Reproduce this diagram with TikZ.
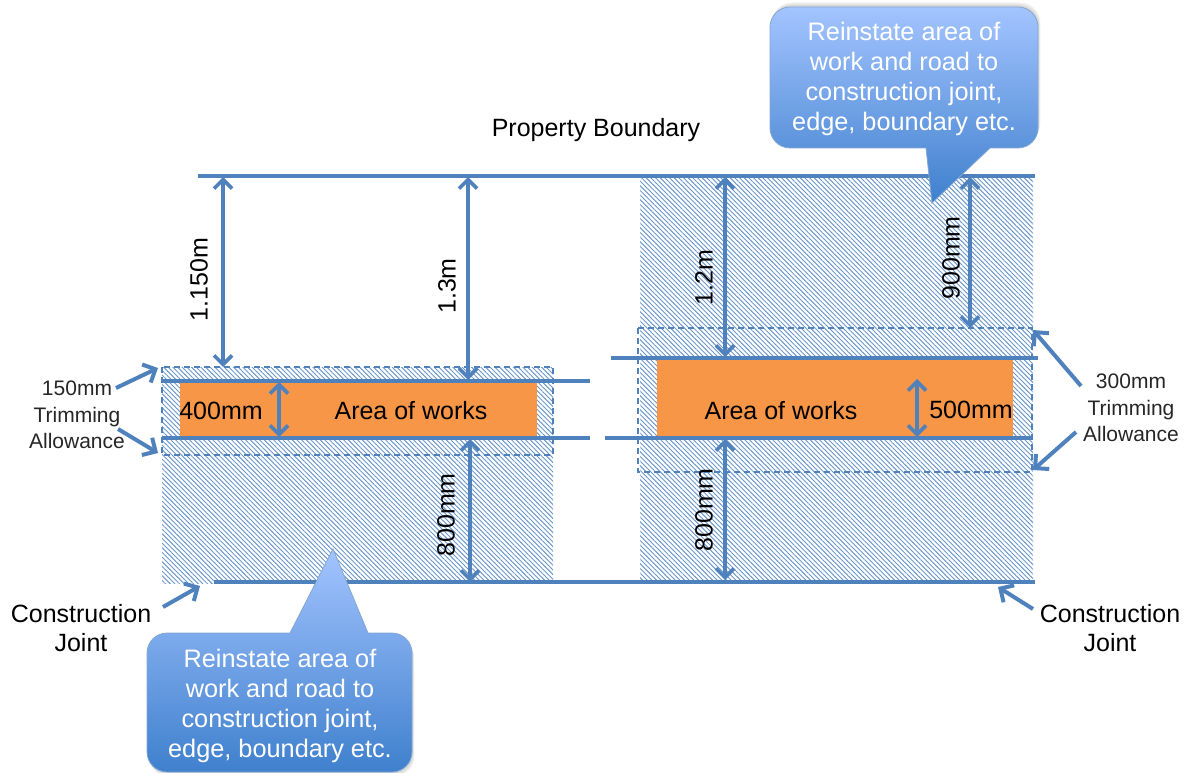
\documentclass[tikz,border=0pt]{standalone}
\usepackage{fontspec}
\setmainfont{Liberation Sans}
\usetikzlibrary{patterns.meta,arrows.meta}
\definecolor{lineblue}{HTML}{4F81BD}
\definecolor{hatchblue}{HTML}{6C97CB}
\definecolor{orangearea}{HTML}{F79646}
\definecolor{calltop}{HTML}{A3C4FF}
\definecolor{callbot}{HTML}{3F80CD}
\tikzset{
  x=1pt,y=-1pt,
  hatch/.style={pattern={Lines[angle=-45,distance=3.3pt,line width=0.95pt]},pattern color=hatchblue},
  band/.style={draw=lineblue,line width=1.1pt,dash pattern=on 6pt off 4pt},
  worksarea/.style={fill=orangearea},
  rule/.style={draw=lineblue,line width=3.6pt},
  dim/.style={draw=lineblue,line width=3.6pt,{Straight Barb[length=9pt,width=18pt,line width=3.6pt]}-{Straight Barb[length=9pt,width=18pt,line width=3.6pt]}},
  pointer/.style={draw=lineblue,line width=4pt,-{Straight Barb[length=10pt,width=20pt,line width=4pt]}},
  lab/.style={font=\fontsize{25}{28}\selectfont,text=black,inner sep=0pt},
  smalllab/.style={font=\fontsize{21}{26.5}\selectfont,text=black!85,inner sep=0pt,align=center},
  sidelab/.style={font=\fontsize{25}{29.5}\selectfont,text=black,inner sep=0pt,align=center},
  vlab/.style={lab,rotate=90},
  calltext/.style={font=\fontsize{25.3}{30}\selectfont,text=white,inner sep=0pt,align=center},
  callout/.style={top color=calltop,bottom color=callbot,draw=lineblue!70,line width=0.8pt},
  callshadow/.style={fill=black,opacity=0.06}
}
\newcommand{\calltop}{(926,148) -- (790,148) .. controls (779,148) and (770,139) .. (770,128) -- (770,27) .. controls (770,16) and (779,7) .. (790,7) -- (1018,7) .. controls (1029,7) and (1038,16) .. (1038,27) -- (1038,128) .. controls (1038,139) and (1029,148) .. (1018,148) -- (990,148)}
\newcommand{\callbot}{(368,633) -- (392,633) .. controls (403,633) and (412,642) .. (412,653) -- (412,752) .. controls (412,763) and (403,772) .. (392,772) -- (167,772) .. controls (156,772) and (147,763) .. (147,752) -- (147,653) .. controls (147,642) and (156,633) .. (167,633) -- (290,633)}
\begin{document}
\begin{tikzpicture}
\useasboundingbox (0,0) rectangle (1189,773);
% hatched ground
\fill[hatch] (162,367) rectangle (553,583);
\fill[hatch] (640,176) rectangle (1033,580);
\draw[band] (162,367) rectangle (553,455);
\draw[band] (638,328) rectangle (1032,472);
% works
\node[worksarea,minimum width=357pt,minimum height=56pt,inner sep=0pt,anchor=north west] (workL) at (180,381) {};
\node[worksarea,minimum width=356pt,minimum height=79pt,inner sep=0pt,anchor=north west] (workR) at (657,358) {};
% rule end points
\coordinate (topA) at (198,176); \coordinate (topB) at (1035,176);
\coordinate (botA) at (214,582); \coordinate (botB) at (1035,582);
\coordinate (l1A) at (162,381); \coordinate (l1B) at (590,381);
\coordinate (l2A) at (162,438); \coordinate (l2B) at (590,438);
\coordinate (r1A) at (611,358); \coordinate (r1B) at (1038,358);
\coordinate (r2A) at (605,438); \coordinate (r2B) at (1032,438);
\draw[rule] (topA) -- (topB);
\draw[rule] (botA) -- (botB);
\draw[rule] (l1A) -- (l1B);
\draw[rule] (l2A) -- (l2B);
\draw[rule] (r1A) -- (r1B);
\draw[rule] (r2A) -- (r2B);
% dimension arrows
\coordinate (d1a) at (223,177); \coordinate (d1b) at (223,367);
\coordinate (d2a) at (468,177); \coordinate (d2b) at (468,380);
\coordinate (d3a) at (470,439); \coordinate (d3b) at (470,582);
\coordinate (d4a) at (279,382); \coordinate (d4b) at (279,437);
\coordinate (d5a) at (970,177); \coordinate (d5b) at (970,328);
\coordinate (d6a) at (725,177); \coordinate (d6b) at (725,357);
\coordinate (d7a) at (917,379); \coordinate (d7b) at (917,437);
\coordinate (d8a) at (725,439); \coordinate (d8b) at (725,580);
\foreach \n in {1,...,8} \draw[dim] (d\n a) -- (d\n b);
% labels
\node[lab] (prop) at (596,130) {Property Boundary};
\node[vlab] (t1) at (199,279.5) {1.150m};
\node[vlab] (t2) at (447,286) {1.3m};
\node[vlab] (t3) at (446,515) {800mm};
\node[vlab] (t5) at (951,258) {900mm};
\node[vlab] (t6) at (704,277.5) {1.2m};
\node[vlab] (t8) at (704,510) {800mm};
\node[lab] (t4) at (221,411) {400mm};
\node[lab] (t7) at (971,410) {500mm};
\node[lab] (aL) at (411,411) {Area of works};
\node[lab] (aR) at (781,411) {Area of works};
\node[smalllab] (trimL) at (77,415) {150mm\\Trimming\\Allowance};
\node[smalllab] (trimR) at (1131,408) {300mm\\Trimming\\Allowance};
\node[sidelab] (jointL) at (81,628) {Construction\\Joint};
\node[sidelab] (jointR) at (1110,628) {Construction\\Joint};
% pointers
\coordinate (p1) at (158,368); \coordinate (p2) at (158,453);
\coordinate (p3) at (200,586); \coordinate (p4) at (998,587);
\coordinate (p5) at (1033,330); \coordinate (p6) at (1033,470);
\coordinate (s1) at (116,388); \coordinate (s2) at (118,429);
\coordinate (s3) at (163,607); \coordinate (s4) at (1033,609);
\coordinate (s5) at (1081,386); \coordinate (s6) at (1076,432);
\foreach \n in {1,...,6} \draw[pointer] (s\n) -- (p\n);
% callouts
\foreach \d in {1.5,3,4.5} {
  \fill[callshadow,shift={(0.5*\d pt,\d pt)}] \calltop -- cycle;
  \fill[callshadow,shift={(0.5*\d pt,-\d pt)}] \callbot -- cycle;
}
\path[callout] \calltop -- (932,203) -- cycle;
\node[calltext] (callT) at (904,79) {Reinstate area of\\work and road to\\construction joint,\\edge, boundary etc.};
\path[callout] \callbot -- (333,549) -- cycle;
\node[calltext] (callB) at (280,706) {Reinstate area of\\work and road to\\construction joint,\\edge, boundary etc.};
\end{tikzpicture}
\end{document}
